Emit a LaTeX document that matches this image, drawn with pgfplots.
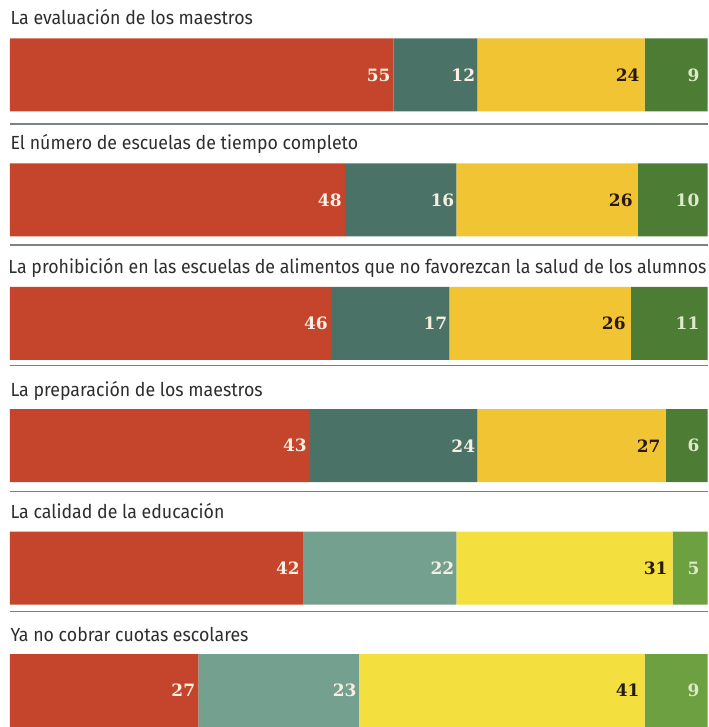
\documentclass[border=0pt]{standalone}
\usepackage{fontspec}
\usepackage{pgfplots}
\usepackage{pgfplotstable}
\pgfplotsset{compat=1.18}
\setmainfont{Fira Sans}[FakeStretch=0.935]
\newfontfamily\numfont{DejaVu Serif}

\definecolor{cred}{HTML}{C5452C}
\definecolor{ctealD}{HTML}{4B7266}
\definecolor{ctealL}{HTML}{74A090}
\definecolor{cyelD}{HTML}{F1C433}
\definecolor{cyelL}{HTML}{F3DF3E}
\definecolor{cgrnD}{HTML}{4D7D35}
\definecolor{cgrnL}{HTML}{6CA040}
\definecolor{ctitle}{HTML}{2E2E2E}
\definecolor{csep}{HTML}{7C8283}
\definecolor{labW}{HTML}{F7EFE2}
\definecolor{labG}{HTML}{DDEAC9}
\definecolor{labK}{HTML}{2A1A0E}

\pgfplotstableread{
pos   r  t  y  g
75    55 12 24 9
200   48 16 26 10
323.5 46 17 26 11
446   43 24 27 6
568.5 42 22 31 5
691   27 23 41 9
}\data

\pgfplotsset{base/.style={scale only axis, width=708pt, height=727pt,
  xmin=-1.4327, xmax=100, ymin=0, ymax=727, y dir=reverse,
  axis line style={draw=none}, xtick=\empty, ytick=\empty, clip=false}}

\begin{document}
\begin{tikzpicture}
\begin{axis}[base, xbar stacked, bar width=73pt]
\addplot[fill=cred, draw=none] table[x=r, y=pos] {\data};
\addplot[fill=ctealD, draw=none] table[x expr={\coordindex<4 ? \thisrow{t} : 0}, y=pos] {\data};
\addplot[fill=ctealL, draw=none] table[x expr={\coordindex<4 ? 0 : \thisrow{t}}, y=pos] {\data};
\addplot[fill=cyelD, draw=none] table[x expr={\coordindex<4 ? \thisrow{y} : 0}, y=pos] {\data};
\addplot[fill=cyelL, draw=none] table[x expr={\coordindex<4 ? 0 : \thisrow{y}}, y=pos] {\data};
\addplot[fill=cgrnD, draw=none] table[x expr={\coordindex<4 ? \thisrow{g} : 0}, y=pos] {\data};
\addplot[fill=cgrnL, draw=none] table[x expr={\coordindex<4 ? 0 : \thisrow{g}}, y=pos] {\data};
\draw[csep, line width=1.4pt] (axis cs:0,124) -- (axis cs:100,124);
\draw[csep, line width=1.4pt] (axis cs:0,245) -- (axis cs:100,245);
\draw[csep, line width=1.4pt] (axis cs:0,366) -- (axis cs:100,366);
\draw[csep, line width=1.4pt] (axis cs:0,492) -- (axis cs:100,492);
\draw[csep, line width=1.4pt] (axis cs:0,612) -- (axis cs:100,612);
\node[anchor=base west, inner sep=0pt, text=ctitle, font=\fontsize{19}{21}\selectfont] at (axis cs:0.05,25) {La evaluación de los maestros};
\node[anchor=base west, inner sep=0pt, text=ctitle, font=\fontsize{19}{21}\selectfont] at (axis cs:0.05,150) {El número de escuelas de tiempo completo};
\node[anchor=base west, inner sep=0pt, text=ctitle, font=\fontsize{19}{21}\selectfont] at (axis cs:-0.25,274) {La prohibición en las escuelas de alimentos que no favorezcan la salud de los alumnos};
\node[anchor=base west, inner sep=0pt, text=ctitle, font=\fontsize{19}{21}\selectfont] at (axis cs:0.05,397) {La preparación de los maestros};
\node[anchor=base west, inner sep=0pt, text=ctitle, font=\fontsize{19}{21}\selectfont] at (axis cs:0.05,519) {La calidad de la educación};
\node[anchor=base west, inner sep=0pt, text=ctitle, font=\fontsize{19}{21}\selectfont] at (axis cs:0.05,642) {Ya no cobrar cuotas escolares};
\end{axis}
\begin{axis}[base, nodes near coords, point meta=explicit symbolic,
  nodes near coords style={anchor=east, inner sep=0pt, font=\numfont\bfseries\fontsize{17}{17}\selectfont}]
\addplot[draw=none, mark=none, nodes near coords style={text=labW, xshift=-3pt}] table[x=r, y=pos, meta=r] {\data};
\addplot[draw=none, mark=none, nodes near coords style={text=labW, xshift=-2pt}] table[x expr=\thisrow{r}+\thisrow{t}, y=pos, meta=t] {\data};
\addplot[draw=none, mark=none, nodes near coords style={text=labK, xshift=-5pt}] table[x expr=\thisrow{r}+\thisrow{t}+\thisrow{y}, y=pos, meta=y] {\data};
\addplot[draw=none, mark=none, nodes near coords style={text=labG, xshift=-8pt}] table[x expr=\thisrow{r}+\thisrow{t}+\thisrow{y}+\thisrow{g}, y=pos, meta=g] {\data};
\end{axis}
\end{tikzpicture}
\end{document}
